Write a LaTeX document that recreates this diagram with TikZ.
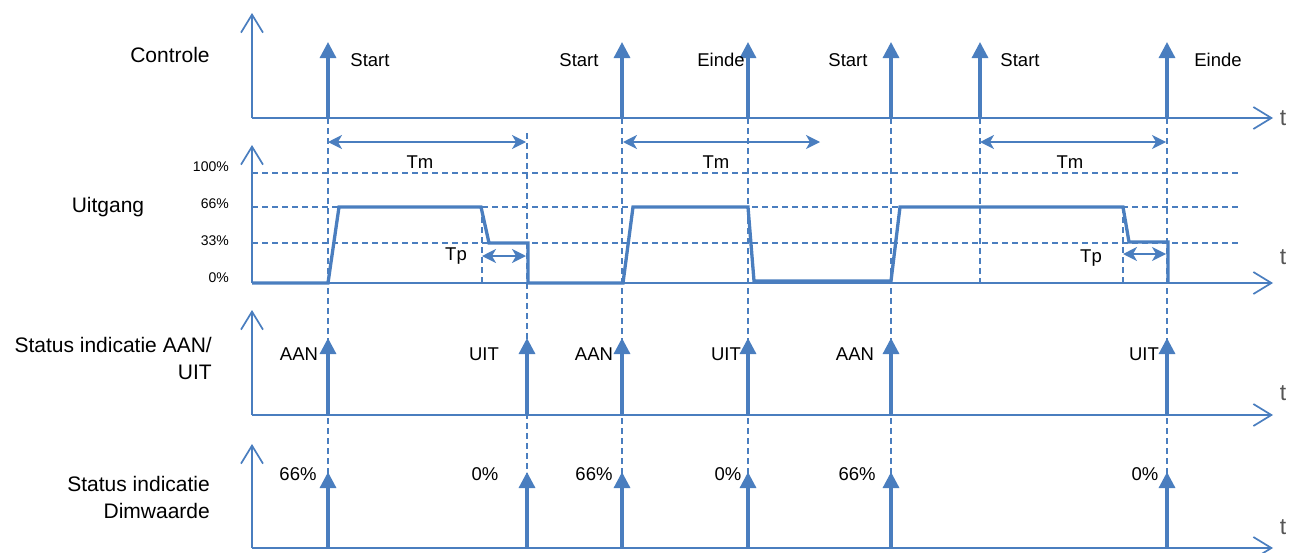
\documentclass[tikz,border=0pt]{standalone}
\usepackage{fontspec}
\setmainfont{Liberation Sans}
\usetikzlibrary{arrows.meta}
\definecolor{sigblue}{HTML}{4A7EBF}
\definecolor{tgray}{HTML}{555555}

\begin{document}
\begin{tikzpicture}[x=1pt,y=-1pt,
    axis/.style={sigblue, line width=1.7pt, -{Straight Barb[length=18pt,width=22pt]}},
    pulse/.style={sigblue, line width=3.2pt, -{Triangle[length=16pt,width=16pt]}},
    wave/.style={sigblue, line width=3.3pt},
    guide/.style={sigblue, line width=1.4pt, dash pattern=on 6pt off 4pt},
    span/.style={sigblue, line width=1.5pt, {Stealth[length=14pt,width=14pt,inset=4pt]}-{Stealth[length=14pt,width=14pt,inset=4pt]}},
    lbl/.style={font=\fontsize{18.5}{22}\selectfont, inner sep=0pt},
    side/.style={font=\fontsize{21}{27}\selectfont, align=right, inner sep=0pt},
    pct/.style={font=\fontsize{14}{16}\selectfont, anchor=east, inner sep=0pt},
    tlab/.style={tgray, font=\fontsize{23}{25}\selectfont, inner sep=0pt}]
    \useasboundingbox (0,0) rectangle (1289,552);

    % axes of the four panels
    \foreach \y/\top/\ty/\n in {118/13/118/1,283/145/257/2,415/310/393/3,548/444/527/4}{
        \draw[axis] (252,\y) -- (252,\top);
        \draw[axis] (252,\y) -- (1273,\y);
        \node[tlab] (t\n) at (1283,\ty) {t};
    }

    % level lines and time markers
    \foreach \y in {173,207,243}{
        \draw[guide] (252,\y) -- (1241,\y);
    }
    \foreach \x/\a/\b in {328/118/548,527/133/548,622/118/548,748/118/548,891/118/548,980/118/283,482/207/283,1123/207/283,1167/118/548}{
        \draw[guide] (\x,\a) -- (\x,\b);
    }

    % output
    \draw[wave] (252,283) -- (328,283) -- (339,207) -- (481,207) -- (489,243) -- (528,243) -- (528,283) -- (623,283) -- (633,207) -- (748,207) -- (754,281) -- (891,281) -- (900,207) -- (1123,207) -- (1129,242) -- (1168,242) -- (1168,283);

    \draw[span] (328,142) -- (526,142);
    \draw[span] (623,142) -- (820,142);
    \draw[span] (980,142) -- (1166,142);
    \draw[span] (482,256) -- (526,256);
    \draw[span] (1123,254) -- (1166,254);
    \node[lbl] (tm1) at (420,162) {Tm};
    \node[lbl] (tm2) at (716,162) {Tm};
    \node[lbl] (tm3) at (1070,162) {Tm};
    \node[lbl] (tp1) at (456,256) {Tp};
    \node[lbl] (tp2) at (1091,258) {Tp};

    % pulses
    \foreach \x in {328,622,748,891,980,1167}{
        \draw[pulse] (\x,118) -- (\x,42);
    }
    \foreach \x in {328,527,622,748,891,1167}{
        \draw[pulse] (\x,415) -- (\x,338);
        \draw[pulse] (\x,548) -- (\x,472);
    }

    \foreach \x/\txt/\n in {370/Start/1,579/Start/2,721/Einde/3,848/Start/4,1020/Start/5,1218/Einde/6}{
        \node[lbl] (ctl\n) at (\x,60) {\txt};
    }
    \foreach \x/\txt/\n in {299/AAN/1,484/UIT/2,594/AAN/3,726/UIT/4,855/AAN/5,1144/UIT/6}{
        \node[lbl] (st\n) at (\x,354) {\txt};
    }
    \foreach \x/\txt/\n in {298/66\%/1,485/0\%/2,594/66\%/3,728/0\%/4,857/66\%/5,1145/0\%/6}{
        \node[lbl] (dim\n) at (\x,474) {\txt};
    }

    % panel names
    \node[side] (controle) at (170,55) {Controle};
    \node[side] (uitgang) at (108,207) {Uitgang};
    \node[side, anchor=east] (aanuit) at (212,358) {Status indicatie AAN/\\UIT};
    \node[side, anchor=east] (dimw) at (210,497) {Status indicatie\\Dimwaarde};
    \node[pct] (p100) at (229,167) {100\%};
    \node[pct] (p66) at (229,204) {66\%};
    \node[pct] (p33) at (229,241) {33\%};
    \node[pct] (p0) at (229,278) {0\%};
\end{tikzpicture}
\end{document}
